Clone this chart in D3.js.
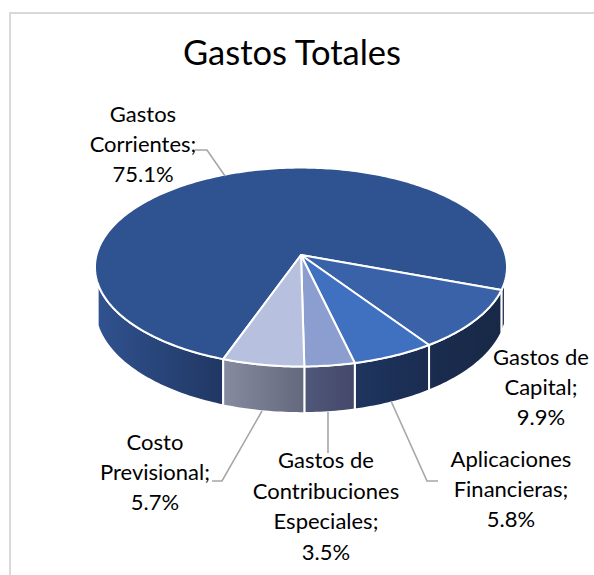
<!DOCTYPE html>
<html><head><meta charset="utf-8">
<script src="https://cdnjs.cloudflare.com/ajax/libs/d3/7.8.5/d3.min.js"></script>
<style>html,body{margin:0;padding:0;background:#fff;overflow:hidden}svg{display:block}
text{font-family:Lato,"Open Sans",sans-serif;fill:#000}</style></head>
<body><svg id="c" width="594" height="575"></svg>
<script>
const title = "Gastos Totales";
const categories = ["Gastos Corrientes","Gastos de Capital","Aplicaciones Financieras","Gastos de Contribuciones Especiales","Costo Previsional"];
const values = [75.1, 9.9, 5.8, 3.5, 5.7];
const labelLines = [["Gastos","Corrientes;","75.1%"],["Gastos de","Capital;","9.9%"],["Aplicaciones","Financieras;","5.8%"],["Gastos de","Contribuciones","Especiales;","3.5%"],["Costo","Previsional;","5.7%"]];
const topColors = ["#2f5391","#3a62a9","#4070c0","#8c9ed0","#b7c0de"];
const wallColors = [["#30528f","#203763"],["#1a2c4f","#182846"],["#1e355f","#1a2c50"],["#50587a","#44486a"],["#868b9f","#63687c"]];
// layout (not data)
const labelAnchors = [[143,122,30],[541,365,30],[511,467,30],[326,468,30.5],[155,450,30]];
const leaders = [[[195,150],[207,150],[225,176]],[],[[391,401],[427,481],[438,481]],[[328,412],[328,453]],[[262,411],[222,481],[212,481]]];
const cx=301, cy=255, rx=204.5, ry=98, e=0.121, depth=41;
const rad=Math.PI/180, rot=199.7*rad;

const svg=d3.select("#c");
const defs=svg.append("defs");
svg.append("rect").attr("x",10).attr("y",13).attr("width",700).attr("height",700).attr("fill","#fff").attr("stroke","#d9d9d9").attr("stroke-width",2);

const arcs=d3.pie().sort(null).startAngle(rot).endAngle(rot+2*Math.PI)(values);
function proj(a,dz=0){
  const u=Math.sin(a), v=-Math.cos(a), s=1/(1-e*v);
  return [cx+rx*u*s, cy+ry*v*s+dz*s];
}
const line=d3.line();
function rim(a0,a1,dz=0){
  const n=Math.max(2,Math.ceil((a1-a0)/(1*rad)));
  return d3.range(n+1).map(i=>proj(a0+(a1-a0)*i/n,dz));
}
// visible front wall spans
const vis0=105*rad, vis1=254*rad;
function spans(d){
  const out=[];
  for(const k of [0,1]){
    const lo=Math.max(d.startAngle,vis0+k*2*Math.PI), hi=Math.min(d.endAngle,vis1+k*2*Math.PI);
    if(hi>lo) out.push([lo,hi]);
  }
  return out;
}
const g=svg.append("g");
arcs.forEach((d,i)=>{
  spans(d).forEach(([lo,hi],j)=>{
    const top=rim(lo,hi), bot=rim(lo,hi,depth).reverse();
    const pts=top.concat(bot);
    let fill;
    if(j===0 && !(i===0 && lo>2*Math.PI)){
      const id="w"+i+"_"+j, xs=d3.extent(pts,p=>p[0]);
      const gr=defs.append("linearGradient").attr("id",id).attr("gradientUnits","userSpaceOnUse")
        .attr("x1",xs[0]).attr("x2",xs[1]).attr("y1",0).attr("y2",0);
      gr.append("stop").attr("offset",0).attr("stop-color",wallColors[i][0]);
      gr.append("stop").attr("offset",1).attr("stop-color",wallColors[i][1]);
      fill=`url(#${id})`;
    } else fill=wallColors[1][0];
    g.append("path").attr("d",line(pts)+"Z").attr("fill",fill).attr("stroke","#fff").attr("stroke-width",2).attr("stroke-linejoin","round");
  });
});
arcs.forEach((d,i)=>{
  const pts=[[cx,cy]].concat(rim(d.startAngle,d.endAngle));
  g.append("path").attr("d",line(pts)+"Z").attr("fill",topColors[i]).attr("stroke","#fff").attr("stroke-width",2).attr("stroke-linejoin","round");
});
leaders.forEach(l=>{ if(l.length) svg.append("path").attr("d",line(l)).attr("fill","none").attr("stroke","#a6a6a6").attr("stroke-width",1.6); });
svg.append("text").attr("x",292).attr("y",65).attr("text-anchor","middle").attr("font-size",34.5).text(title);
labelLines.forEach((ls,i)=>{
  const [x,y,h]=labelAnchors[i];
  const t=svg.append("text").attr("text-anchor","middle").attr("font-size",22);
  ls.forEach((s,k)=>t.append("tspan").attr("x",x).attr("y",y+k*h).text(s));
});
</script></body></html>
